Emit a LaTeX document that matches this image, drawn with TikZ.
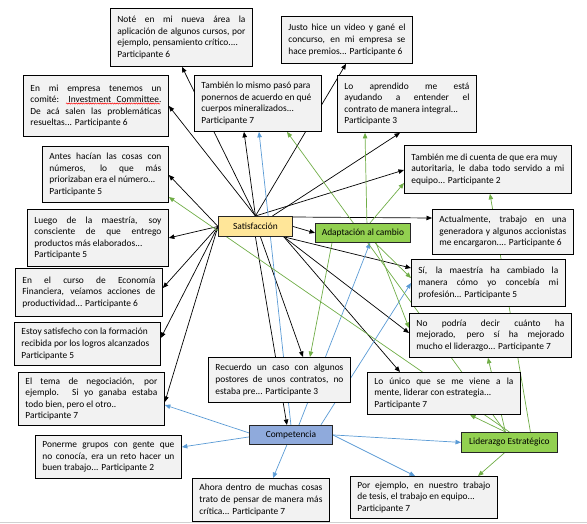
\documentclass[tikz,border=0pt]{standalone}
\usepackage{fontspec}
\setmainfont{Carlito}
\usetikzlibrary{arrows.meta,backgrounds,decorations.pathmorphing}
\definecolor{boxgray}{HTML}{F2F2F2}
\definecolor{satc}{HTML}{FFE699}
\definecolor{adapc}{HTML}{92D050}
\definecolor{compc}{HTML}{8FAADC}
\definecolor{lnblue}{HTML}{5B9BD5}
\definecolor{lngreen}{HTML}{70AD47}
\tolerance=10000
\hbadness=10000
\hyphenpenalty=10000
\exhyphenpenalty=10000
\newcommand{\qfont}{\fontsize{9.4}{11.6}\selectfont}
\begin{document}
\begin{tikzpicture}[x=1pt,y=-1pt,
  qbox/.style={draw=black, fill=boxgray, line width=0.85pt, inner xsep=7pt, inner ysep=2pt, align=justify, anchor=north west, font=\qfont},
  cbox/.style={draw=black!85, line width=0.85pt, inner sep=0pt, anchor=north west, font=\qfont, align=center},
  conn/.style={line width=0.7pt, -{Triangle[length=5.5pt,width=4.5pt]}},
  ck/.style={conn, draw=black},
  cb/.style={conn, draw=lnblue},
  cg/.style={conn, draw=lngreen}]
\useasboundingbox (0,0) rectangle (587,523);
\fill[black!18] (0,521.5) rectangle (587,523);

% quotation boxes
\node[qbox, text width=128pt, minimum height=58pt] (n1) at (110,8) {Noté en mi nueva área la\break aplicación de algunos cursos, por\break ejemplo, pensamiento crítico....\\Participante 6};
\node[qbox, text width=117pt, minimum height=47pt] (n2) at (281,16) {Justo hice un video y gané el\break concurso, en mi empresa se\break hace premios... Participante 6};
\node[qbox, text width=131pt, minimum height=61pt] (n3) at (23,75) {En mi empresa tenemos un\break comité: Investment Committee.\break De acá salen las problemáticas\break resueltas... Participante 6};
\node[qbox, text width=113pt, minimum height=56pt] (n4) at (194,75) {También lo mismo pasó para\\ponernos de acuerdo en qué\\cuerpos mineralizados...\\Participante 7};
\node[qbox, text width=125pt, minimum height=57pt] (n5) at (337,75) {Lo aprendido me está\break ayudando a entender el\break contrato de manera integral...\\Participante 3};
\node[qbox, text width=112pt, minimum height=56pt] (n6) at (42,146) {Antes hacían las cosas con\break números, lo que más\break priorizaban era el número...\\Participante 5};
\node[qbox, text width=153pt, minimum height=48pt] (n7) at (404,145) {También me di cuenta de que era muy\\autoritaria, le daba todo servido a mi\break equipo... Participante 2};
\node[qbox, text width=127pt, minimum height=57pt] (n8) at (27,209) {Luego de la maestría, soy\break consciente de que entrego\break productos más elaborados...\\Participante 5};
\node[qbox, text width=127pt, minimum height=45pt] (n11) at (432,209) {Actualmente, trabajo en una\break generadora y algunos accionistas\break me encargaron.... Participante 6};
\node[qbox, text width=133pt, minimum height=48pt] (n12) at (15,268) {En el curso de Economía\break Financiera, veíamos acciones de\break productividad... Participante 6};
\node[qbox, text width=140pt, minimum height=47pt] (n13) at (411,259) {Sí, la maestría ha cambiado la\break manera cómo yo concebía mi\break profesión... Participante 5};
\node[qbox, text width=132pt, minimum height=43pt] (n14) at (14,322) {Estoy satisfecho con la formación\\recibida por los logros alcanzados\\Participante 5};
\node[qbox, text width=148pt, minimum height=44pt] (n15) at (409,313) {No podría decir cuánto ha\break mejorado, pero sí ha mejorado\break mucho el liderazgo... Participante 7};
\node[qbox, text width=128pt, minimum height=45pt] (n16) at (208,357) {Recuerdo un caso con algunos\break postores de unos contratos, no\break estaba pre... Participante 3};
\node[qbox, text width=132pt, minimum height=53pt] (n17) at (18,372) {El tema de negociación, por\break ejemplo. Si yo ganaba estaba\break todo bien, pero el otro..\\Participante 7};
\node[qbox, text width=139pt, minimum height=42pt] (n18) at (367,372) {Lo único que se me viene a la\break mente, liderar con estrategia...\\Participante 7};
\node[qbox, text width=132pt, minimum height=43pt] (n21) at (35,435) {Ponerme grupos con gente que\break no conocía, era un reto hacer un\break buen trabajo... Participante 2};
\node[qbox, text width=123pt, minimum height=43pt] (n22) at (192,478) {Ahora dentro de muchas cosas\break trato de pensar de manera más\break crítica... Participante 7};
\node[qbox, text width=133pt, minimum height=42pt] (n23) at (350,476) {Por ejemplo, en nuestro trabajo\break de tesis, el trabajo en equipo...\\Participante 7};

% category boxes
\node[cbox, fill=satc, minimum width=74pt, minimum height=20pt] (sat) at (218,216) {Satisfacción};
\node[cbox, fill=adapc, minimum width=95pt, minimum height=19pt] (adap) at (315,223) {Adaptación al cambio};
\node[cbox, fill=compc, minimum width=83pt, minimum height=19pt] (comp) at (249,425) {Competencia};
\node[cbox, fill=adapc, minimum width=96pt, minimum height=20pt] (lid) at (461,432) {Liderazgo Estratégico};

% spell-check underline
\draw[red, line width=0.5pt, decorate, decoration={snake, amplitude=0.6pt, segment length=2.4pt}]
  ([xshift=43pt,yshift=-28.5pt]n3.north west) -- ([xshift=137pt,yshift=-28.5pt]n3.north west);

\begin{pgfonlayer}{background}
% Satisfaccion
\draw[ck] (sat.north) -- ([xshift=72pt]n1.south west);
\draw[ck] (sat.north) -- (n3.east);
\draw[ck] (sat.north) -- ([xshift=50pt]n4.south west);
\draw[ck] (sat.north) -- ([xshift=65pt]n2.south west);
\draw[ck] ([xshift=17pt]sat.north) -- ([xshift=63pt]n5.south west);
\draw[ck] (sat.north) -- ([yshift=-25pt]n7.north west);
\draw[ck] ([yshift=-1pt]sat.north east) -- ([yshift=-9pt]n11.north west);
\draw[ck] (sat.east) -- (adap.west);
\draw[ck] ([xshift=-9pt]sat.south east) -- ([yshift=-9pt]n13.north west);
\draw[ck] ([xshift=-9pt]sat.south east) -- ([yshift=-20pt]n15.north west);
\draw[ck] ([xshift=-9pt]sat.south east) -- ([xshift=33pt]n18.north west);
\draw[ck] ([xshift=5pt]sat.south) -- ([xshift=95pt]n16.north west);
\draw[ck] (sat.south) -- ([xshift=-4pt]comp.north);
\draw[ck] (sat.west) -- ([yshift=-29pt]n6.north east);
\draw[ck] (sat.west) -- (n8.east);
\draw[ck] (sat.west) -- ([yshift=-20pt]n12.north east);
\draw[ck] (sat.west) -- ([yshift=-16pt]n14.north east);
\draw[ck] (sat.west) -- ([yshift=-30pt]n17.north east);
% Competencia
\draw[cb] (comp.north) -- ([xshift=65pt]n4.south west);
\draw[cb] ([xshift=8pt]comp.north) -- ([xshift=55pt]adap.south west);
\draw[cb] ([xshift=-12pt]comp.north east) -- ([yshift=-24pt]n13.north west);
\draw[cb] ([yshift=2pt]comp.west) -- ([yshift=-33pt]n17.north east);
\draw[cb] ([yshift=-2pt]comp.west) -- ([yshift=-12pt]n21.north east);
\draw[cb] ([xshift=-4pt]comp.south) -- ([xshift=81pt]n22.north west);
\draw[cb] (comp.east) -- ([xshift=65pt]n23.north west);
\draw[cb] (comp.east) -- (lid.west);
% Adaptacion al cambio
\draw[cg] ([xshift=4pt]adap.north) -- ([xshift=28pt]n5.south west);
\draw[cg] ([xshift=7pt]adap.north) -- ([yshift=-38pt]n7.north west);
\draw[cg] ([xshift=17pt]adap.south west) -- ([xshift=102pt]n16.north west);
\draw[cg] ([xshift=60pt]adap.south west) -- ([yshift=-19pt]n13.north west);
\draw[cg] ([xshift=61pt]adap.south west) -- ([yshift=-15pt]n15.north west);
% Liderazgo estrategico
\draw[cg] (lid.north) -- ([yshift=-51pt]n6.north east);
\draw[cg] ([xshift=-4pt]lid.north) -- ([xshift=93pt]n4.south west);
\draw[cg] ([xshift=-4pt]lid.north) -- ([xshift=103pt]n18.south west);
\draw[cg] ([xshift=-4pt]lid.north) -- ([xshift=79pt]n15.south west);
\draw[cg] ([xshift=21pt]lid.north) -- ([xshift=86pt]n7.south west);
\draw[cg] ([xshift=-5pt]lid.south) -- ([xshift=128pt]n23.north west);
\end{pgfonlayer}
\end{tikzpicture}
\end{document}
